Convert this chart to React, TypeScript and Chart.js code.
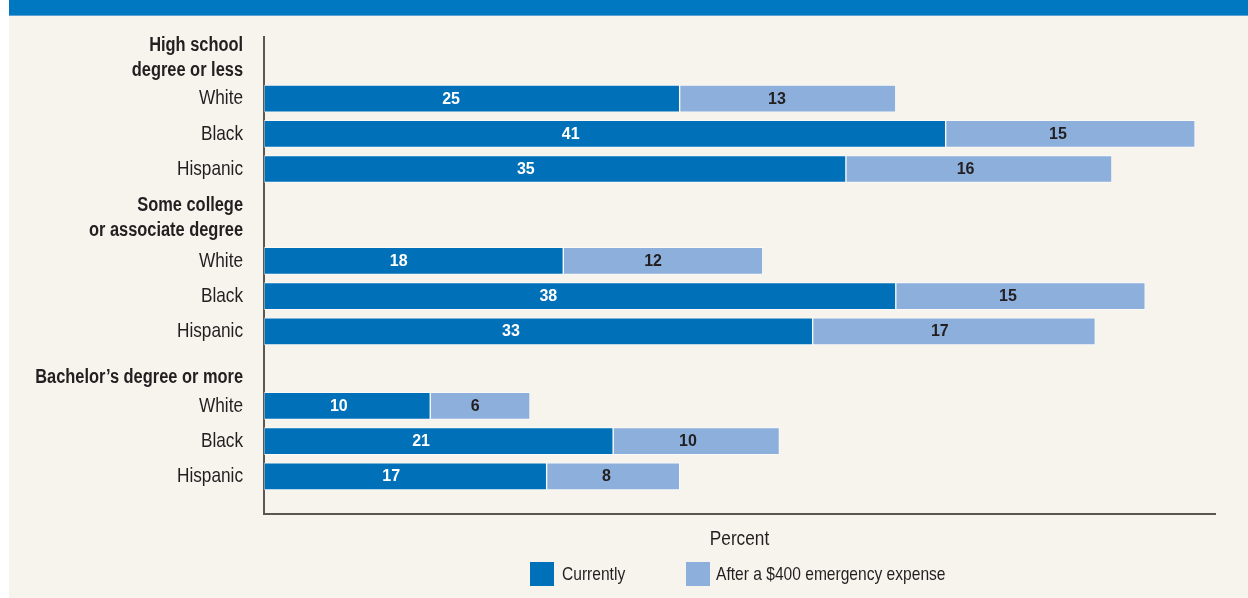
import React, { useEffect, useRef } from "react";
import { Chart, registerables } from "chart.js";

Chart.register(...registerables);

// ---- data ----
const GROUP_HEADERS: string[][] = [
  ["High school", "degree or less"],
  ["Some college", "or associate degree"],
  ["Bachelor’s degree or more"],
];
const RACES = ["White", "Black", "Hispanic"];
const CURRENTLY = [25, 41, 35, 18, 38, 33, 10, 21, 17];
const AFTER_EXPENSE = [13, 15, 16, 12, 15, 17, 6, 10, 8];
const SERIES_LABELS = ["Currently", "After a $400 emergency expense"];
const X_TITLE = "Percent";

// ---- layout (row positions on the y scale, in row units) ----
const HEADER_POS = [0.6, 5.14, 9.66];
const GROUP_FIRST_ROW = [1.75, 6.36, 10.48];
const Y_MAX = 13.55;
const X_MAX = 57.2;

// ---- styles ----
const DARK = "#0070b8";
const LIGHT = "#8cafdc";
const BAND = "#0078c1";
const BG = "#f7f4ee";
const TEXT = "#231f20";
const AXIS = "#5b5650";
const FONT = "'Liberation Sans', Arial, sans-serif";
const SX = 0.82; // horizontal condensing of label text

const ROW_POS: number[] = [];
GROUP_FIRST_ROW.forEach((start) => RACES.forEach((_, r) => ROW_POS.push(start + r)));

type Tick = { value: number; lines: string[]; header: boolean };
const TICKS: Tick[] = [];
GROUP_HEADERS.forEach((h, g) => {
  TICKS.push({ value: HEADER_POS[g], lines: h, header: true });
  RACES.forEach((race, r) => TICKS.push({ value: GROUP_FIRST_ROW[g] + r, lines: [race], header: false }));
});

const valueLabels = {
  id: "valueLabels",
  afterDatasetsDraw(chart: any) {
    const ctx = chart.ctx;
    chart.data.datasets.forEach((ds: any, di: number) => {
      const meta = chart.getDatasetMeta(di);
      meta.data.forEach((bar: any, i: number) => {
        const { x, y, base } = bar.getProps(["x", "y", "base"], true);
        const v = ds.data[i].x;
        ctx.save();
        ctx.font = `bold 16px ${FONT}`;
        ctx.fillStyle = di === 0 ? "#ffffff" : TEXT;
        ctx.textAlign = "center";
        ctx.textBaseline = "middle";
        ctx.fillText(String(v), base + (x - base) * 0.45, y + 0.5);
        ctx.restore();
      });
    });
  },
};

const axisLabels = {
  id: "axisLabels",
  afterDraw(chart: any) {
    const ctx = chart.ctx;
    const ys = chart.scales.y;
    const xs = chart.scales.x;
    const right = ys.right - 21;
    TICKS.forEach((t) => {
      const y = ys.getPixelForValue(t.value);
      const size = t.header ? 20 : 21;
      const lh = 25;
      ctx.save();
      ctx.font = `${t.header ? "bold " : ""}${size}px ${FONT}`;
      ctx.fillStyle = TEXT;
      ctx.textAlign = "right";
      ctx.textBaseline = "middle";
      ctx.translate(right, 0);
      ctx.scale(SX, 1);
      t.lines.forEach((ln, k) => {
        ctx.fillText(ln, 0, y + (k - (t.lines.length - 1) / 2) * lh);
      });
      ctx.restore();
    });
    ctx.save();
    ctx.font = `21px ${FONT}`;
    ctx.fillStyle = TEXT;
    ctx.textAlign = "center";
    ctx.textBaseline = "middle";
    ctx.translate((xs.left + xs.right) / 2, xs.top + 25);
    ctx.scale(SX, 1);
    ctx.fillText(X_TITLE, 0, 0);
    ctx.restore();
  },
};

export default function App() {
  const canvasRef = useRef<HTMLCanvasElement | null>(null);

  useEffect(() => {
    const canvas = canvasRef.current;
    if (!canvas) return;
    const barCommon = {
      borderColor: "rgba(255,255,255,0.55)",
      borderWidth: 1,
      borderSkipped: false,
      barThickness: 27,
    };
    const chart = new Chart(canvas, {
      type: "bar",
      data: {
        datasets: [
          {
            label: SERIES_LABELS[0],
            data: ROW_POS.map((p, i) => ({ x: CURRENTLY[i], y: p })),
            backgroundColor: DARK,
            ...barCommon,
          } as any,
          {
            label: SERIES_LABELS[1],
            data: ROW_POS.map((p, i) => ({ x: AFTER_EXPENSE[i], y: p })),
            backgroundColor: LIGHT,
            ...barCommon,
          } as any,
        ],
      },
      options: {
        indexAxis: "y",
        animation: false,
        responsive: false,
        maintainAspectRatio: false,
        layout: { padding: { top: 21, right: 33, left: 0, bottom: 0 } },
        plugins: {
          legend: { display: false },
          tooltip: { enabled: false },
        },
        scales: {
          x: {
            type: "linear",
            stacked: true,
            min: 0,
            max: X_MAX,
            offset: false,
            grid: { display: false, drawTicks: false },
            border: { display: true, color: AXIS, width: 2 },
            ticks: { display: false },
            afterFit: (s: any) => {
              s.height = 84;
            },
          },
          y: {
            type: "linear",
            stacked: true,
            reverse: true,
            min: 0,
            max: Y_MAX,
            offset: false,
            grid: { display: false, drawTicks: false },
            border: { display: true, color: AXIS, width: 2 },
            ticks: { display: false },
            afterFit: (s: any) => {
              s.width = 255;
            },
          },
        },
      } as any,
      plugins: [valueLabels, axisLabels],
    });
    return () => chart.destroy();
  }, []);

  const legendText: React.CSSProperties = {
    position: "absolute",
    top: 562,
    height: 24,
    lineHeight: "24px",
    fontFamily: FONT,
    fontSize: 19,
    color: TEXT,
    whiteSpace: "nowrap",
    transform: `scaleX(${SX})`,
    transformOrigin: "left center",
  };

  return (
    <div
      style={{
        position: "absolute",
        left: 9,
        top: 0,
        width: 1239,
        height: 598,
        background: BG,
        overflow: "hidden",
      }}
    >
      <div
        style={{
          position: "absolute",
          left: 0,
          top: 0,
          width: 1239,
          height: 15,
          background: BAND,
          borderBottom: "1px solid #5aa3d6",
        }}
      />
      <canvas
        ref={canvasRef}
        width={1239}
        height={582}
        style={{ position: "absolute", left: 0, top: 16, width: 1239, height: 582 }}
      />
      <div style={{ position: "absolute", left: 521, top: 562, width: 24, height: 24, background: DARK }} />
      <div style={{ ...legendText, left: 553 }}>{SERIES_LABELS[0]}</div>
      <div style={{ position: "absolute", left: 677, top: 562, width: 24, height: 24, background: LIGHT }} />
      <div style={{ ...legendText, left: 707 }}>{SERIES_LABELS[1]}</div>
    </div>
  );
}
